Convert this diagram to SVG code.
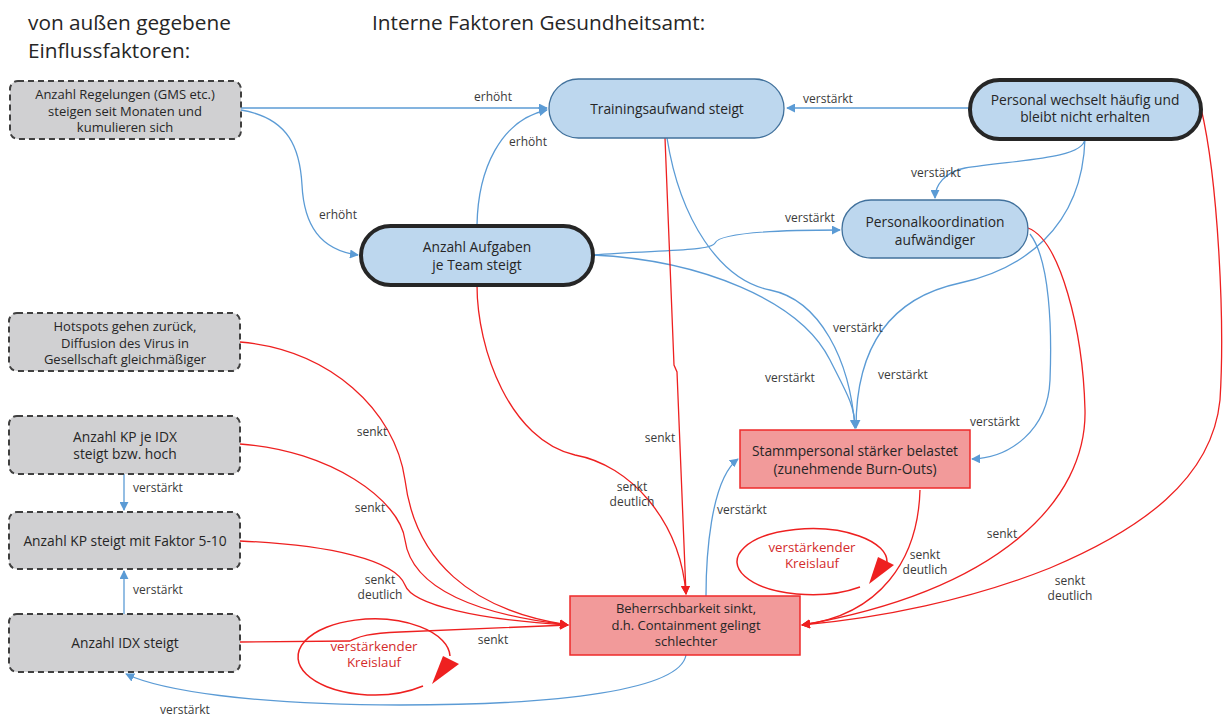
<svg xmlns="http://www.w3.org/2000/svg" width="1223" height="717" viewBox="0 0 1223 717">
<defs>
<style>
.hdr{font-family:"Open Sans","Noto Sans",sans-serif;font-size:20.8px;fill:#262626}
.nt{font-family:"Open Sans","Noto Sans",sans-serif;font-size:13.8px;fill:#262626;text-anchor:middle}
.n3{font-family:"Open Sans","Noto Sans",sans-serif;font-size:13px;fill:#262626;text-anchor:middle}
.lb{font-family:"Open Sans","Noto Sans",sans-serif;font-size:12px;fill:#3a3a3a;text-anchor:middle}
.lp{font-family:"Open Sans","Noto Sans",sans-serif;font-size:13.3px;fill:#d42c2c;text-anchor:middle}
.gray{fill:#d0d0d2;stroke:#404040;stroke-width:2;stroke-dasharray:6,4}
.blue{fill:#bdd7ee;stroke:#41719c;stroke-width:1.3}
.blueT{fill:#bdd7ee;stroke:#262626;stroke-width:4}
.red{fill:#f29a9a;stroke:#ee2a2a;stroke-width:1.5}
.cb{fill:none;stroke:#5b9bd5;stroke-width:1.3;marker-end:url(#ab)}
.cr{fill:none;stroke:#ee2020;stroke-width:1.3;marker-end:url(#ar)}
.loop{fill:none;stroke:#ee2020;stroke-width:1.5}
</style>
<marker id="ab" viewBox="0 0 10 10" refX="9" refY="5" markerWidth="9" markerHeight="9" markerUnits="userSpaceOnUse" orient="auto"><path d="M0,0 L10,5 L0,10 Z" fill="#5b9bd5"/></marker>
<marker id="ar" viewBox="0 0 10 10" refX="9" refY="5" markerWidth="9" markerHeight="9" markerUnits="userSpaceOnUse" orient="auto"><path d="M0,0 L10,5 L0,10 Z" fill="#ee2020"/></marker>
</defs>
<rect width="1223" height="717" fill="#ffffff"/>
<text class="hdr" x="28" y="30">von außen gegebene</text>
<text class="hdr" x="28" y="58">Einflussfaktoren:</text>
<text class="hdr" x="372" y="30">Interne Faktoren Gesundheitsamt:</text>

<g id="connectors">
<path class="cb" d="M241,108 L547,108"/>
<path class="cb" d="M241,110 C290,118 300,150 302,185 C304,225 320,250 358,255"/>
<path class="cb" d="M477,225 C478,170 500,120 547,110"/>
<path class="cb" d="M969,108 L787,108"/>
<path class="cb" d="M1085,139 C1083,160 1010,160 965,168 C945,172 935,185 935,198"/>
<path class="cb" d="M1085,139 C1082,230 1020,270 960,283 C880,300 856,360 856,428"/>
<path class="cb" d="M593,255 C650,250 710,252 715,243 C720,232 780,230 840,230"/>
<path class="cb" d="M593,255 C700,260 800,300 830,360 C845,390 855,405 855,428"/>
<path class="cb" d="M667,138 C680,220 720,280 770,290 C820,300 850,360 855,428"/>
<path class="cb" d="M1030,234 C1050,260 1052,330 1050,380 C1048,430 1010,458 972,459"/>
<path class="cb" d="M124,474 L124,510"/>
<path class="cb" d="M124,614 L124,571"/>
<path class="cb" d="M686,655 C680,690 560,705 400,705 C250,705 160,690 126,674"/>
<path class="cb" d="M706,596 C706,560 710,480 738,459"/>

<path class="cr" d="M665,138 L674,365 L677,372 L686,594"/>
<path class="cr" d="M477,285 C477,350 510,440 575,455 C630,465 680,520 686,594"/>
<path class="cr" d="M240,342 C330,350 395,410 405,480 C415,560 470,610 568,625"/>
<path class="cr" d="M240,444 C330,450 400,500 405,540 C412,590 480,615 568,625"/>
<path class="cr" d="M240,541 C330,545 395,560 405,585 C412,605 480,620 568,625"/>
<path class="cr" d="M240,642 L350,641 C360,637 360,634 400,632 L568,625"/>
<path class="cr" d="M920,490 C918,560 880,615 802,625"/>
<path class="cr" d="M1028,228 C1060,240 1083,330 1085,410 C1087,500 1000,590 802,625"/>
<path class="cr" d="M1201,108 C1218,180 1225,320 1220,400 C1212,480 1140,530 1050,568 C970,600 880,618 802,625"/>

<text class="lb" x="493" y="101">erhöht</text>
<text class="lb" x="528" y="146">erhöht</text>
<text class="lb" x="338" y="219">erhöht</text>
<text class="lb" x="828" y="103">verstärkt</text>
<text class="lb" x="936" y="177">verstärkt</text>
<text class="lb" x="810" y="222">verstärkt</text>
<text class="lb" x="858" y="332">verstärkt</text>
<text class="lb" x="790" y="382">verstärkt</text>
<text class="lb" x="903" y="379">verstärkt</text>
<text class="lb" x="995" y="426">verstärkt</text>
<text class="lb" x="742" y="514">verstärkt</text>
<text class="lb" x="158" y="492">verstärkt</text>
<text class="lb" x="158" y="594">verstärkt</text>
<text class="lb" x="185" y="714">verstärkt</text>
<text class="lb" x="660" y="442">senkt</text>
<text class="lb" x="632" y="491">senkt</text>
<text class="lb" x="632" y="506">deutlich</text>
<text class="lb" x="372" y="436">senkt</text>
<text class="lb" x="370" y="512">senkt</text>
<text class="lb" x="380" y="584">senkt</text>
<text class="lb" x="380" y="599">deutlich</text>
<text class="lb" x="493" y="644">senkt</text>
<text class="lb" x="925" y="559">senkt</text>
<text class="lb" x="925" y="574">deutlich</text>
<text class="lb" x="1002" y="538">senkt</text>
<text class="lb" x="1070" y="585">senkt</text>
<text class="lb" x="1070" y="600">deutlich</text>
</g>

<g id="loop1">
<path class="loop" d="M423,686 A76,38 0 1 1 450,656"/>
<path d="M443,656 L459,664 L432,684 Z" fill="#ee2020"/>
<text class="lp" x="374" y="651">verstärkender</text>
<text class="lp" x="374" y="667">Kreislauf</text>
</g>
<g id="loop2">
<path class="loop" d="M860,587 A75,33 0 1 1 887,562"/>
<path d="M878,557 L894,565 L869,584 Z" fill="#ee2020"/>
<text class="lp" x="812" y="552">verstärkender</text>
<text class="lp" x="812" y="568">Kreislauf</text>
</g>

<g id="n-regelungen">
<rect class="gray" x="10" y="81" width="231" height="58" rx="8"/>
<text class="n3" x="125" y="99">Anzahl Regelungen (GMS etc.)</text>
<text class="n3" x="125" y="115.5">steigen seit Monaten und</text>
<text class="n3" x="125" y="132">kumulieren sich</text>
</g>
<g id="n-hotspots">
<rect class="gray" x="9" y="313" width="231" height="58" rx="8"/>
<text class="n3" x="125" y="331">Hotspots gehen zurück,</text>
<text class="n3" x="125" y="347.5">Diffusion des Virus in</text>
<text class="n3" x="125" y="364">Gesellschaft gleichmäßiger</text>
</g>
<g id="n-kpjeidx">
<rect class="gray" x="9" y="416" width="231" height="58" rx="8"/>
<text class="nt" x="125" y="442">Anzahl KP je IDX</text>
<text class="nt" x="125" y="459">steigt bzw. hoch</text>
</g>
<g id="n-kpfaktor">
<rect class="gray" x="9" y="512" width="231" height="57" rx="8"/>
<text class="nt" x="125" y="546">Anzahl KP steigt mit Faktor 5-10</text>
</g>
<g id="n-idx">
<rect class="gray" x="9" y="614" width="231" height="58" rx="8"/>
<text class="nt" x="125" y="648">Anzahl IDX steigt</text>
</g>

<g id="n-training">
<rect class="blue" x="549" y="79" width="235" height="59" rx="29.5"/>
<text class="nt" x="667" y="114">Trainingsaufwand steigt</text>
</g>
<g id="n-personal">
<rect class="blueT" x="970" y="80" width="231" height="59" rx="29.5"/>
<text class="nt" x="1085" y="105">Personal wechselt häufig und</text>
<text class="nt" x="1085" y="122">bleibt nicht erhalten</text>
</g>
<g id="n-koordination">
<rect class="blue" x="842" y="200" width="186" height="58" rx="29"/>
<text class="nt" x="935" y="227">Personalkoordination</text>
<text class="nt" x="935" y="245">aufwändiger</text>
</g>
<g id="n-aufgaben">
<rect class="blueT" x="361" y="226" width="232" height="59" rx="29.5"/>
<text class="nt" x="477" y="252">Anzahl Aufgaben</text>
<text class="nt" x="477" y="270">je Team steigt</text>
</g>
<g id="n-stamm">
<rect class="red" x="740" y="430" width="230" height="58"/>
<text class="nt" x="855" y="456">Stammpersonal stärker belastet</text>
<text class="nt" x="855" y="474">(zunehmende Burn-Outs)</text>
</g>
<g id="n-beherr">
<rect class="red" x="570" y="596" width="230" height="59"/>
<text class="n3" x="686" y="613">Beherrschbarkeit sinkt,</text>
<text class="n3" x="686" y="629.5">d.h. Containment gelingt</text>
<text class="n3" x="686" y="646">schlechter</text>
</g>
</svg>
